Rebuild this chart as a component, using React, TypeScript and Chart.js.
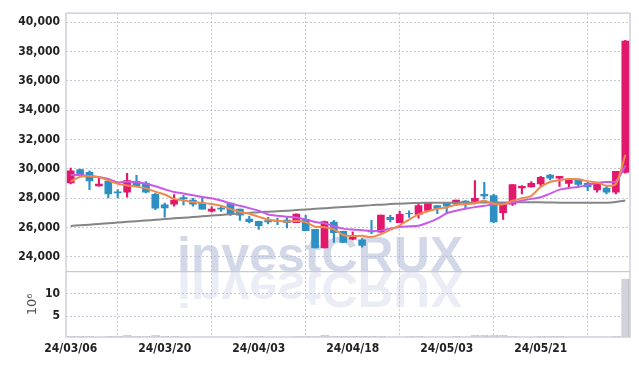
import React, { useEffect, useRef } from "react";
import { Chart, registerables } from "chart.js";

Chart.register(...registerables);

const dates = [
  "24/03/06", "24/03/07", "24/03/08", "24/03/11", "24/03/12", "24/03/13", "24/03/14", "24/03/15", "24/03/18", "24/03/19",
  "24/03/20", "24/03/21", "24/03/22", "24/03/25", "24/03/26", "24/03/27", "24/03/28", "24/03/29", "24/04/01", "24/04/02",
  "24/04/03", "24/04/04", "24/04/05", "24/04/08", "24/04/09", "24/04/11", "24/04/12", "24/04/15", "24/04/16", "24/04/17",
  "24/04/18", "24/04/19", "24/04/22", "24/04/23", "24/04/24", "24/04/25", "24/04/26", "24/04/29", "24/04/30", "24/05/02",
  "24/05/03", "24/05/07", "24/05/08", "24/05/09", "24/05/10", "24/05/13", "24/05/14", "24/05/16", "24/05/17", "24/05/20",
  "24/05/21", "24/05/22", "24/05/23", "24/05/24", "24/05/27", "24/05/28", "24/05/29", "24/05/30", "24/05/31", "24/06/03",
];

const opens = [
  29034, 29959, 29757, 28833, 29171, 28428, 28406, 29149, 29036, 28271,
  27550, 27596, 28045, 27866, 27663, 27123, 27325, 27663, 27258, 26582,
  26425, 26470, 26492, 26515, 26335, 26560, 25884, 24623, 26380, 25749,
  25208, 25163, 25794, 25682, 26695, 26335, 26975, 26897, 27168, 27505,
  27685, 27640, 27798, 27775, 28271, 28180, 27010, 27596, 28698, 28766,
  28968, 29576, 29374, 29014, 29216, 29014, 28563, 28698, 28406, 29757,
];
const highs = [
  30047, 29980, 29869, 29351, 29190, 28586, 29689, 29554, 29126, 28338,
  27663, 28248, 28203, 28000, 28022, 27415, 27460, 27670, 27265, 26762,
  26450, 26695, 26650, 26695, 26930, 26830, 25890, 26447, 26492, 25755,
  25704, 25253, 26492, 26860, 26830, 27100, 27145, 27595, 27670, 27510,
  27690, 27870, 27843, 29194, 29081, 28271, 27690, 28930, 28856, 29126,
  29487, 29622, 29490, 29220, 29306, 29081, 28950, 28856, 29830, 38750,
];
const lows = [
  28966, 29560, 28586, 28820, 28022, 28045, 28068, 28820, 28361, 27213,
  26717, 27460, 27550, 27460, 27250, 27055, 27100, 26830, 26492, 26312,
  25884, 26245, 26200, 25975, 26330, 25790, 24620, 24620, 24983, 24980,
  25163, 24668, 25591, 25680, 26380, 26330, 26695, 26650, 27160, 26943,
  27010, 27505, 27325, 27618, 27955, 26335, 26560, 27505, 28293, 28760,
  28788, 29239, 28811, 28698, 28811, 28518, 28406, 28293, 28293, 29700,
];
const closes = [
  29872, 29576, 29171, 28968, 28293, 28361, 29194, 28833, 28406, 27325,
  27348, 27866, 27955, 27596, 27258, 27258, 27258, 26920, 26852, 26402,
  26132, 26380, 26425, 26335, 26920, 25794, 24623, 26402, 25659, 24983,
  25434, 24780, 25704, 26852, 26537, 26897, 26940, 27505, 27663, 27303,
  27460, 27866, 27685, 28000, 28158, 26380, 27685, 28924, 28811, 29014,
  29419, 29374, 29487, 29216, 28946, 28766, 28946, 28406, 29824, 38696,
];

const ma5 = [
  29130, 29460, 29500, 29430, 29220, 28980, 28860, 28790, 28670, 28450,
  28250, 27955, 27850, 27740, 27680, 27610, 27490, 27260, 27070, 26940,
  26730, 26550, 26470, 26400, 26450, 26375, 26060, 26030, 25880, 25500,
  25420, 25440, 25360, 25551, 25861, 26154, 26550, 26900, 27110, 27280,
  27374, 27559, 27595, 27663, 27834, 27618, 27582, 27829, 27992, 28163,
  28771, 29108, 29221, 29302, 29288, 29158, 29072, 28856, 28978, 30950,
];
const ma20 = [
  29576, 29576, 29509, 29441, 29306, 29081, 29126, 29081, 28991, 28811,
  28608, 28428, 28316, 28203, 28090, 28000, 27842, 27640, 27482, 27325,
  27150, 26897, 26807, 26740, 26695, 26560, 26380, 26290, 26087, 25930,
  25862, 25817, 25772, 25794, 25930, 26042, 26087, 26132, 26335, 26605,
  26975, 27145, 27280, 27393, 27482, 27573, 27618, 27685, 27842, 27955,
  28068, 28316, 28586, 28698, 28766, 28901, 29036, 29104, 29149, 30207,
];
const ma120 = [
  26110, 26160, 26200, 26250, 26300, 26340, 26390, 26440, 26480, 26530,
  26580, 26630, 26670, 26720, 26770, 26820, 26860, 26910, 26960, 27000,
  27050, 27080, 27110, 27150, 27190, 27230, 27280, 27320, 27370, 27400,
  27440, 27480, 27530, 27560, 27600, 27630, 27660, 27680, 27690, 27690,
  27690, 27700, 27700, 27700, 27710, 27710, 27710, 27720, 27720, 27720,
  27720, 27710, 27700, 27700, 27690, 27690, 27690, 27700, 27750, 27840,
];
const volumes = [
  0.55, 0.55, 0.55, 0.3, 0.55, 0.55, 0.75, 0.55, 0.55, 0.75,
  0.55, 0.55, 0.3, 0.3, 0.3, 0.3, 0.3, 0.3, 0.3, 0.55,
  0.55, 0.3, 0.3, 0.3, 0.55, 0.55, 0.55, 0.75, 0.55, 0.55,
  0.55, 0.55, 0.55, 0.55, 0.3, 0.3, 0.55, 0.55, 0.3, 0.3,
  0.3, 0.55, 0.3, 0.75, 0.75, 0.75, 0.75, 0.55, 0.3, 0.3,
  0.55, 0.55, 0.55, 0.3, 0.3, 0.3, 0.3, 0.3, 0.55, 13.4,
];

const priceTicks = [24000, 26000, 28000, 30000, 32000, 34000, 36000, 38000, 40000];
const volumeTicks = [5, 10];

const UP = "#e2186c";
const DOWN = "#2c90c5";
const FONT = "'DejaVu Sans Condensed', 'Liberation Sans Narrow', sans-serif";

const frame = {
  id: "frame",
  beforeDraw(chart: any) {
    const { ctx, chartArea: a } = chart;
    ctx.save();
    ctx.fillStyle = "#ffffff";
    ctx.fillRect(0, 0, chart.width, chart.height);
    ctx.beginPath();
    ctx.rect(a.left, a.top, a.right - a.left, a.bottom - a.top);
    ctx.clip();
    ctx.font = "bold 50px 'Liberation Sans', Arial, sans-serif";
    ctx.textBaseline = "alphabetic";
    ctx.fillStyle = "rgb(210,216,232)";
    const base = chart.scales.y.bottom;
    ctx.fillText("investCRUX", 177, base);
    ctx.translate(0, base * 2);
    ctx.scale(1, -1);
    ctx.fillStyle = "rgb(234,237,245)";
    ctx.fillText("investCRUX", 177, base);
    ctx.restore();
  },
  beforeDatasetsDraw(chart: any) {
    const { ctx, chartArea: a } = chart;
    ctx.save();
    ctx.strokeStyle = "#cfd0dc";
    ctx.lineWidth = 1.5;
    ctx.strokeRect(a.left, a.top, a.right - a.left, a.bottom - a.top);
    const sep = chart.scales.y.bottom;
    ctx.strokeStyle = "#c9c9cf";
    ctx.lineWidth = 1.2;
    ctx.beginPath();
    ctx.moveTo(a.left, sep);
    ctx.lineTo(a.right, sep);
    ctx.stroke();
    ctx.restore();
  },
};

export default function App() {
  const ref = useRef<HTMLCanvasElement | null>(null);
  useEffect(() => {
    if (!ref.current) return;
    const up = closes.map((c, i) => c >= opens[i]);
    const candleColors = up.map((u) => (u ? UP : DOWN));
    const gridCommon = {
      color: "rgba(175,180,200,0.75)",
      lineWidth: 1,
      drawTicks: false,
    };
    const tickFont = { family: FONT, size: 12, weight: "bold" };
    const chart = new Chart(ref.current, {
      type: "bar",
      data: {
        labels: dates,
        datasets: [
          {
            type: "line",
            data: ma5,
            borderColor: "#f0894c",
            borderWidth: 2,
            pointRadius: 0,
            tension: 0.3,
            yAxisID: "y",
            order: 0,
          } as any,
          {
            type: "line",
            data: ma20,
            borderColor: "#c95ae6",
            borderWidth: 2,
            pointRadius: 0,
            tension: 0.3,
            yAxisID: "y",
            order: 0,
          } as any,
          {
            type: "line",
            data: ma120,
            borderColor: "#858585",
            borderWidth: 2,
            pointRadius: 0,
            tension: 0.3,
            yAxisID: "y",
            order: 0,
          } as any,
          {
            type: "bar",
            data: opens.map((o, i) => [o, closes[i]]),
            backgroundColor: candleColors,
            barThickness: 7,
            grouped: false,
            yAxisID: "y",
            order: 1,
          } as any,
          {
            type: "bar",
            data: lows.map((l, i) => [l, highs[i]]),
            backgroundColor: candleColors,
            barThickness: 1.5,
            grouped: false,
            yAxisID: "y",
            order: 2,
          } as any,
          {
            type: "bar",
            data: volumes,
            backgroundColor: "rgba(205,205,214,0.9)",
            borderColor: "#b9b9c2",
            borderWidth: { right: 1, left: 0, top: 0, bottom: 0 },
            barThickness: 8,
            grouped: false,
            yAxisID: "yv",
            order: 3,
          } as any,
        ],
      },
      options: {
        animation: false,
        responsive: false,
        devicePixelRatio: 1,
        layout: { padding: { top: 9, right: 9, left: 0, bottom: 0 } },
        plugins: { legend: { display: false }, tooltip: { enabled: false } },
        scales: {
          x: {
            type: "category",
            offset: true,
            grid: gridCommon,
            border: { display: false, dash: [2, 2] },
            ticks: {
              autoSkip: false,
              maxRotation: 0,
              minRotation: 0,
              padding: 5,
              color: "#222",
              font: tickFont,
              callback: (_v: any, i: number) => (i % 10 === 0 ? dates[i] : null),
            },
            afterFit: (s: any) => {
              s.height = 29;
            },
          },
          yv: {
            type: "linear",
            position: "left",
            stack: "main",
            stackWeight: 66,
            min: 0.3,
            max: 15,
            grid: gridCommon,
            border: { display: false, dash: [2, 2] },
            afterBuildTicks: (s: any) => {
              s.ticks = volumeTicks.map((v) => ({ value: v }));
            },
            ticks: {
              autoSkip: false,
              padding: 6,
              color: "#222",
              font: tickFont,
            },
            title: {
              display: true,
              text: "10\u2076",
              color: "#555",
              padding: { top: 25, bottom: 0 },
              font: { family: "'DejaVu Sans', sans-serif", size: 13 },
            },
            afterFit: (s: any) => {
              s.width = 66;
            },
          },
          y: {
            type: "linear",
            position: "left",
            stack: "main",
            stackWeight: 261,
            min: 23000,
            max: 40600,
            grid: gridCommon,
            border: { display: false, dash: [2, 2] },
            afterBuildTicks: (s: any) => {
              s.ticks = priceTicks.map((v) => ({ value: v }));
            },
            ticks: {
              autoSkip: false,
              padding: 6,
              color: "#222",
              font: tickFont,
              callback: (v: any) => Number(v).toLocaleString("en-US"),
            },
            afterFit: (s: any) => {
              s.width = 66;
            },
          },
        },
      } as any,
      plugins: [frame],
    });
    return () => chart.destroy();
  }, []);
  return (
    <div style={{ position: "absolute", left: 0, top: 0, width: 639, height: 366 }}>
      <canvas ref={ref} width={639} height={366} />
    </div>
  );
}
